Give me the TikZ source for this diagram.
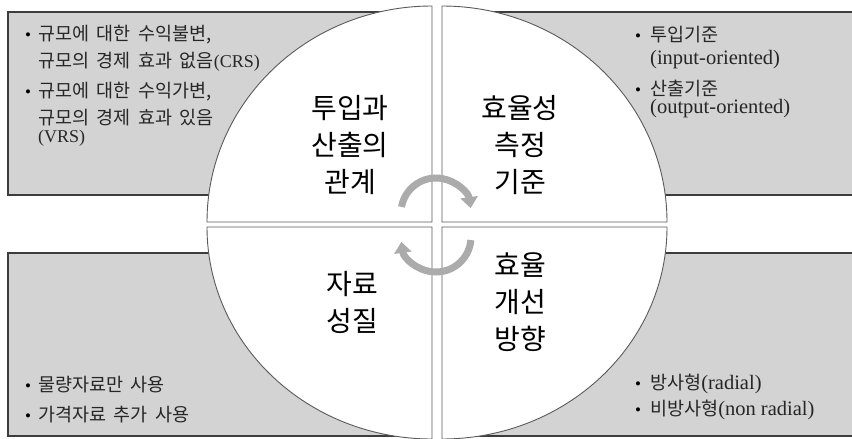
\documentclass[tikz,border=0pt]{standalone}
\usepackage{fontspec}
\setmainfont{Liberation Serif}
\newfontfamily\kr[WordSpace=1.8]{Noto Sans CJK KR}
\usetikzlibrary{arrows.meta}
\definecolor{boxfill}{HTML}{D3D3D3}
\definecolor{boxline}{HTML}{3C3C3C}
\definecolor{quadline}{HTML}{5A5A5A}
\definecolor{arrowgray}{HTML}{ABABAB}
\definecolor{txt}{HTML}{262626}
\newcommand\krtext[1]{{\kr\fontsize{18.5}{22}\selectfont #1}}
\newcommand\abbrtext[1]{{\fontsize{18}{22}\selectfont #1}}
\begin{document}
\begin{tikzpicture}[x=1pt,y=-1pt,
  infobox/.style={fill=boxfill, draw=boxline, line width=1.1pt},
  quad/.style={fill=white, draw=quadline, line width=0.9pt},
  biglabel/.style={font=\kr\fontsize{28}{37}\selectfont, align=center, text=black, inner sep=0pt},
  item/.style={anchor=base west, inner sep=0pt, font=\fontsize{20.5}{22}\selectfont, text=txt},
  dotitem/.style={anchor=base, inner sep=0pt, font=\fontsize{17}{20}\selectfont, text=black},
  cycarrow/.style={draw=arrowgray, line width=7pt, -{Triangle[width=17pt,length=11pt]}}
]
\useasboundingbox (0,0) rectangle (852,439);
% gray boxes
\path[infobox] (8,12) rectangle (420,195);
\path[infobox] (455,12) rectangle (870,195);
\path[infobox] (8,253) rectangle (420,436);
\path[infobox] (455,253) rectangle (870,436);
% quadrants
\path[quad] (207,222) arc[start angle=180,end angle=270,x radius=225,y radius=216] -- (432,222) -- cycle;
\path[quad] (442,6) arc[start angle=270,end angle=360,x radius=225,y radius=216] -- (442,222) -- cycle;
\path[quad] (207,227) arc[start angle=180,end angle=90,x radius=225,y radius=212] -- (432,227) -- cycle;
\path[quad] (667,227) arc[start angle=0,end angle=90,x radius=225,y radius=212] -- (442,227) -- cycle;
% cycle arrows
\coordinate (ctop) at (436,213);
\coordinate (cbot) at (436,237);
\draw[cycarrow] ([shift={(-170:35)}]ctop) arc[start angle=-170,end angle=-8,radius=35];
\draw[cycarrow] ([shift={(5:35)}]cbot) arc[start angle=5,end angle=172,radius=35];
% big labels
\node[biglabel] (lab1) at (350,145) {투입과\\산출의\\관계};
\node[biglabel] (lab2) at (520,145) {효율성\\측정\\기준};
\node[biglabel] (lab3) at (352,302) {자료\\성질};
\node[biglabel] (lab4) at (520,302) {효율\\개선\\방향};
% top-left items
\node[dotitem] (b1) at (28,40) {•};
\node[item] (t1a) at (38,40) {\krtext{규모에 대한 수익불변,}};
\node[item] (t1b) at (38,67) {\krtext{규모의 경제 효과 없음}\abbrtext{(CRS)}};
\node[dotitem] (b2) at (28,97) {•};
\node[item] (t2a) at (38,97) {\krtext{규모에 대한 수익가변,}};
\node[item] (t2b) at (38,124) {\krtext{규모의 경제 효과 있음}};
\node[item] (t2c) at (38,142) {\abbrtext{(VRS)}};
% top-right items
\node[dotitem] (b3) at (638,41) {•};
\node[item] (t3a) at (650,41) {\krtext{투입기준}};
\node[item] (t3b) at (650,64) {(input-oriented)};
\node[dotitem] (b4) at (638,95) {•};
\node[item] (t4a) at (650,95) {\krtext{산출기준}};
\node[item] (t4b) at (650,113) {(output-oriented)};
% bottom-left items
\node[dotitem] (b5) at (28,391) {•};
\node[item] (t5) at (38,391) {\krtext{물량자료만 사용}};
\node[dotitem] (b6) at (28,421) {•};
\node[item] (t6) at (38,421) {\krtext{가격자료 추가 사용}};
% bottom-right items
\node[dotitem] (b7) at (638,389) {•};
\node[item] (t7) at (650,389) {\krtext{방사형}(radial)};
\node[dotitem] (b8) at (638,415) {•};
\node[item] (t8) at (650,415) {\krtext{비방사형}(non radial)};
\end{tikzpicture}
\end{document}
